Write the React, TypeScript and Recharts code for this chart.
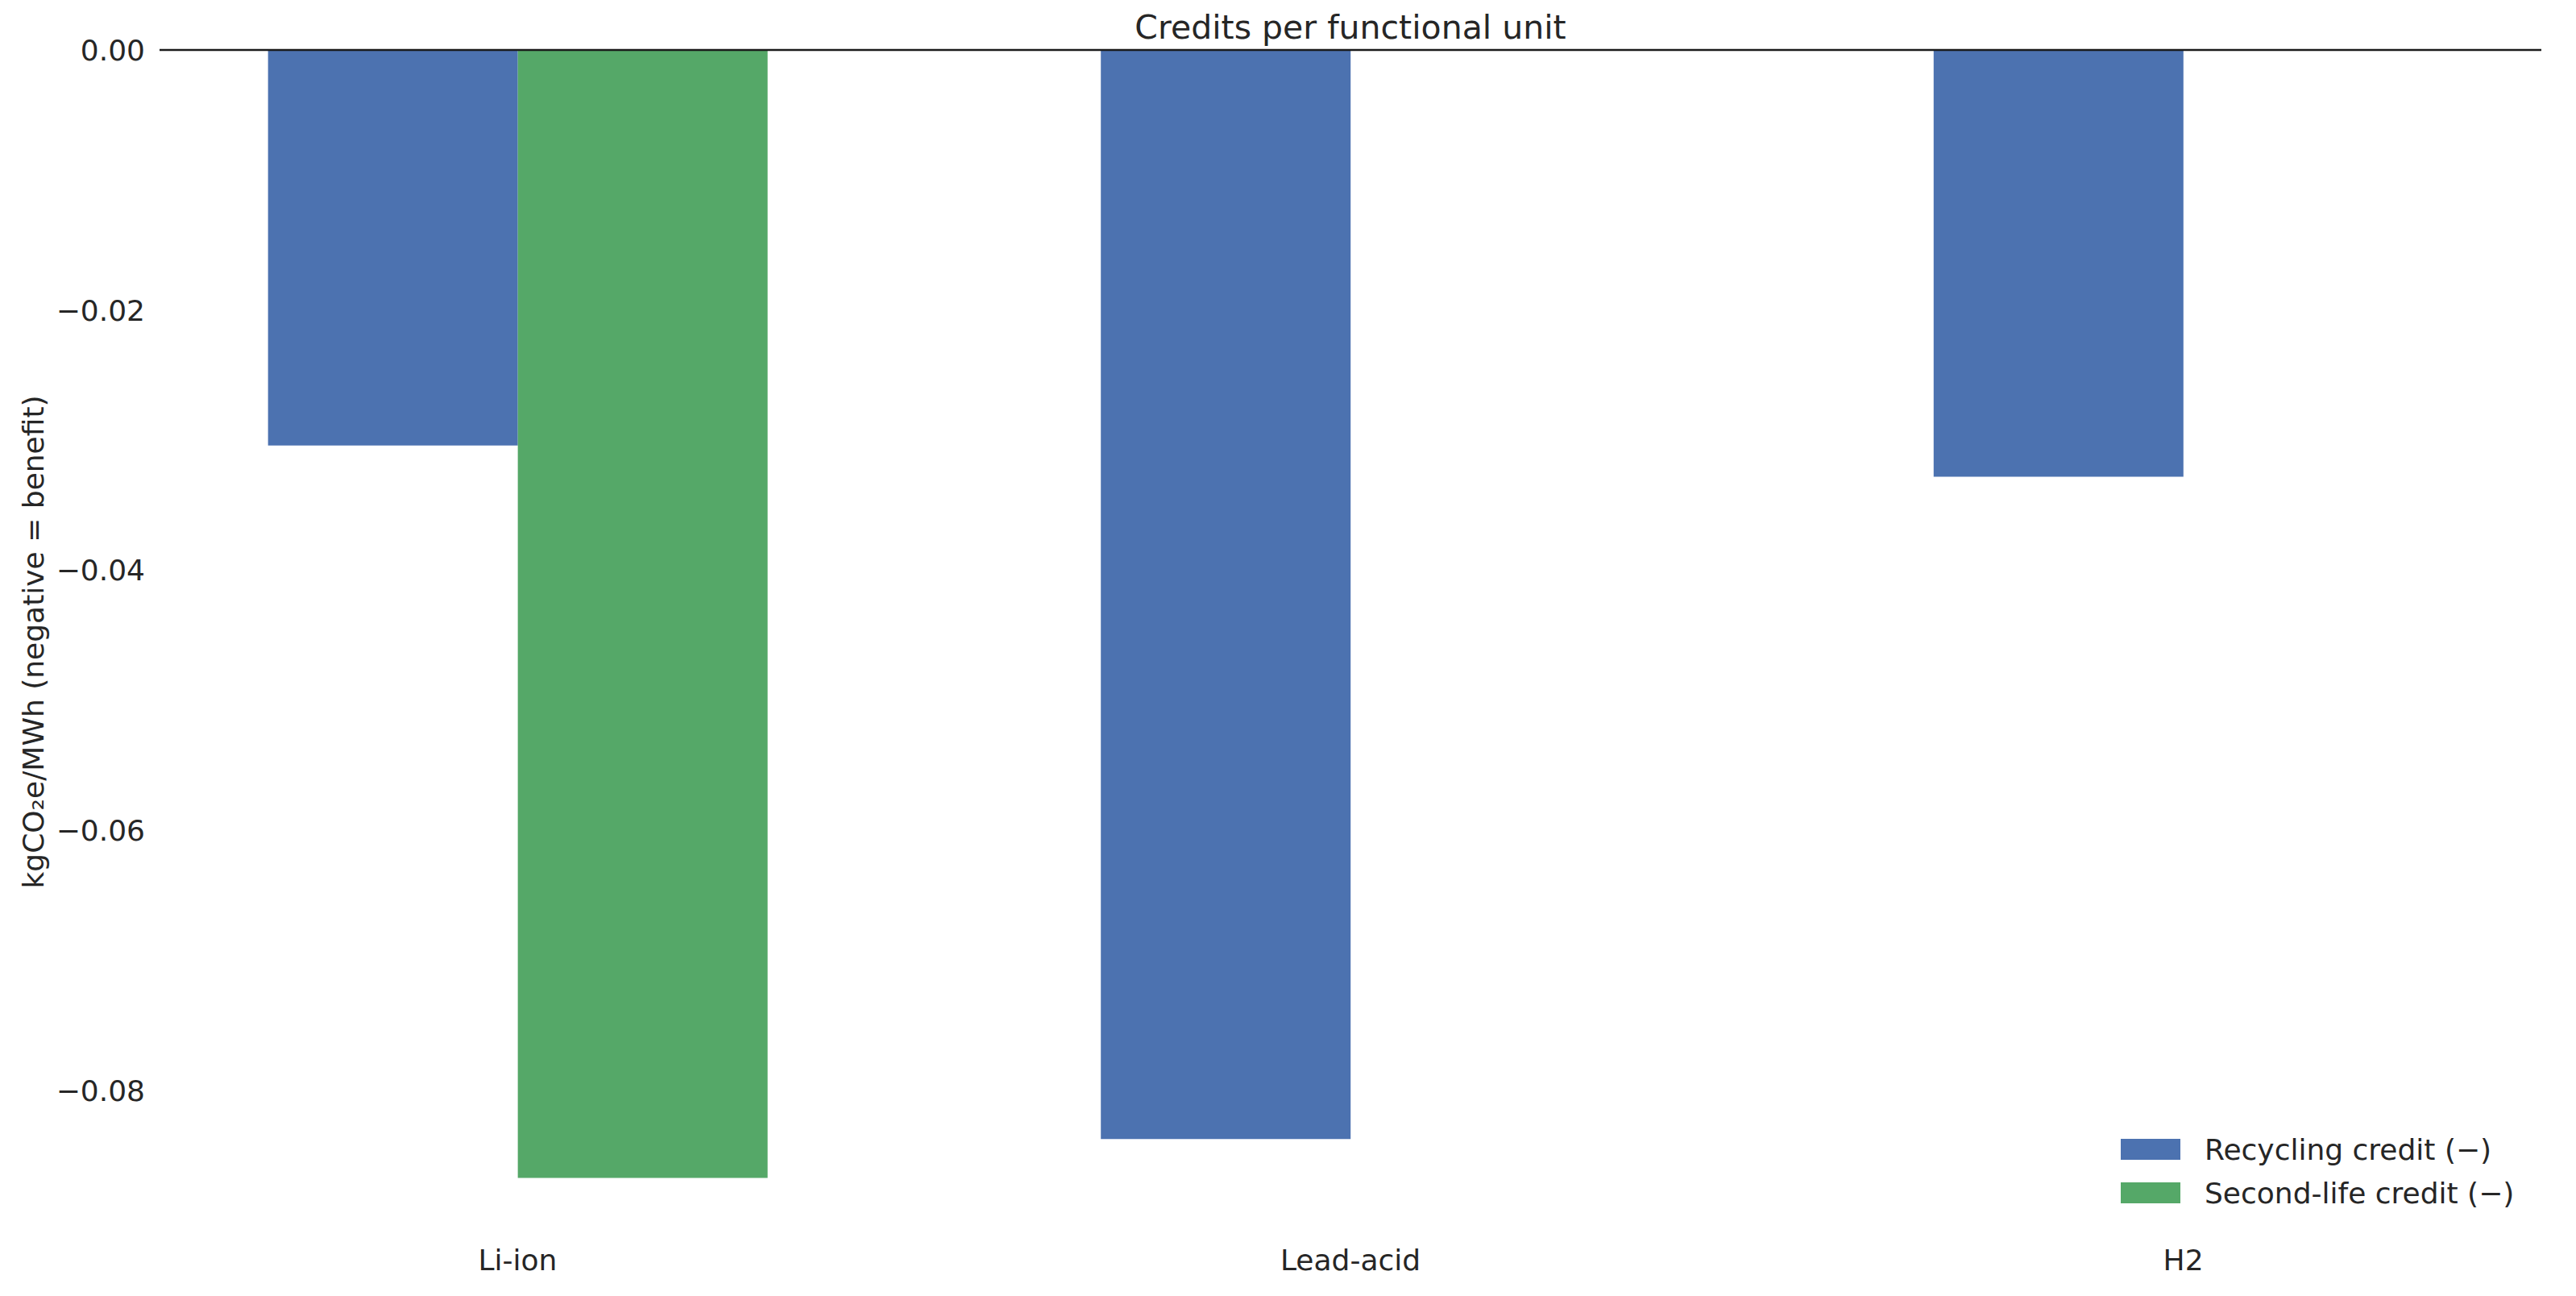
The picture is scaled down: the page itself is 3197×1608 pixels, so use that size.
import { BarChart, Bar, XAxis, YAxis, ReferenceLine, Legend, Label } from "recharts";

const categories = ["Li-ion", "Lead-acid", "H2"];
const recyclingCredit = [-0.0304, -0.0837, -0.0328];
const secondLifeCredit: (number | null)[] = [-0.0867, null, null];
const yTicks = [0, -0.02, -0.04, -0.06, -0.08];

const FONT = "'DejaVu Sans', sans-serif";
const TEXT = "#262626";
const BLUE = "#4C72B0";
const GREEN = "#55A868";

const data = categories.map((name, i) => ({
  pos: i,
  name,
  recycling: recyclingCredit[i],
  secondLife: secondLifeCredit[i],
}));

const fmt = (v: number) => v.toFixed(2).replace("-", "\u2212");

function YLabel({ viewBox }: any) {
  const x = viewBox.x + 33;
  const y = viewBox.y + viewBox.height / 2;
  return (
    <text
      x={x}
      y={y}
      transform={`rotate(-90 ${x} ${y})`}
      textAnchor="middle"
      dominantBaseline="central"
      fontFamily={FONT}
      fontSize={36}
      fill={TEXT}
    >
      kgCO₂e/MWh (negative = benefit)
    </text>
  );
}

function LegendBox({ payload }: any) {
  return (
    <div style={{ fontFamily: FONT, fontSize: 36, color: TEXT }}>
      {(payload || []).map((p: any) => (
        <div key={p.value} style={{ display: "flex", alignItems: "center", height: 54 }}>
          <span style={{ display: "inline-block", width: 74, height: 26, background: p.color, marginRight: 30 }} />
          <span style={{ whiteSpace: "nowrap" }}>{p.value}</span>
        </div>
      ))}
    </div>
  );
}

export default function App() {
  return (
    <BarChart
      width={3180}
      height={1590}
      data={data}
      margin={{ top: 54, right: 34, bottom: 7, left: 0 }}
      barGap={0}
    >
      <XAxis
        type="number"
        dataKey="pos"
        domain={[-0.43, 2.43]}
        ticks={[0, 1, 2]}
        interval={0}
        allowDataOverflow
        tickFormatter={(i: number) => categories[i]}
        axisLine={false}
        tickLine={false}
        tickSize={0}
        tickMargin={19}
        height={60}
        tick={{ fontFamily: FONT, fontSize: 36, fill: TEXT }}
      />
      <YAxis
        type="number"
        domain={[-0.091, 0]}
        ticks={yTicks}
        allowDataOverflow
        interval={0}
        tickFormatter={fmt}
        axisLine={false}
        tickLine={false}
        tickSize={0}
        tickMargin={18}
        width={190}
        tick={{ fontFamily: FONT, fontSize: 36, fill: TEXT }}
      >
        <Label content={YLabel} />
      </YAxis>
      <Legend
        layout="vertical"
        align="center"
        verticalAlign="middle"
        wrapperStyle={{ left: 2624, top: 1391, width: "auto" }}
        content={LegendBox}
      />
      <Bar dataKey="recycling" name={"Recycling credit (\u2212)"} fill={BLUE} barSize={310} isAnimationActive={false} />
      <Bar dataKey="secondLife" name={"Second-life credit (\u2212)"} fill={GREEN} barSize={310} isAnimationActive={false} />
      <ReferenceLine
        y={0}
        stroke="#1a1a1a"
        strokeWidth={2.5}
        label={{ value: "Credits per functional unit", position: "top", offset: 14, fontFamily: FONT, fontSize: 41, fill: TEXT }}
      />
    </BarChart>
  );
}
